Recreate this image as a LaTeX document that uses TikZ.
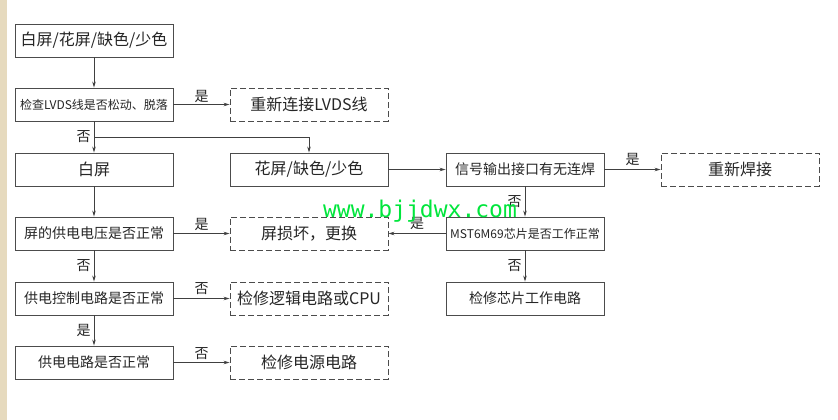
\documentclass[tikz,border=0pt]{standalone}
\usepackage{fontspec}
\setmainfont{Noto Sans CJK SC}
\newfontfamily\wmfont{DejaVu Sans Mono}
\usetikzlibrary{arrows.meta}
\definecolor{strip}{RGB}{230,218,190}
\definecolor{wmgreen}{RGB}{0,230,60}

\begin{document}
\begin{tikzpicture}[x=1pt,y=-1pt,
    box/.style={draw=black!70,line width=0.9pt,minimum width=158pt,minimum height=33pt,inner sep=0pt,font=\fontsize{14}{16}\selectfont,text=black!85},
    big/.style={font=\fontsize{16}{18}\selectfont},
    small/.style={font=\fontsize{12}{14}\selectfont},
    dbox/.style={box,big,dash pattern=on 6pt off 3pt},
    lbl/.style={font=\fontsize{14}{16}\selectfont,text=black!85,inner sep=0pt},
    arr/.style={draw=black!75,line width=0.8pt,-{Stealth[length=6pt,width=3.5pt]}}]
    % page and strip
    \useasboundingbox (0,0) rectangle (838,420);
    \fill[white] (0,0) rectangle (838,420);
    \fill[strip] (0,0) rectangle (7,420);

    % left column
    \node[box,big] (start) at (94,40.5) {白屏/花屏/缺色/少色};
    \node[box,small] (lvds) at (94,104.5) {检查LVDS线是否松动、脱落};
    \node[box,big] (white) at (94,169.5) {白屏};
    \node[box] (volt) at (94,233.5) {屏的供电电压是否正常};
    \node[box] (ctrl) at (94,298.5) {供电控制电路是否正常};
    \node[box] (power) at (94,362.5) {供电电路是否正常};

    % middle column
    \node[dbox] (relvds) at (309,104.5) {重新连接LVDS线};
    \node[box,big] (flower) at (309,169.5) {花屏/缺色/少色};
    \node[dbox] (broken) at (309,233.5) {屏损坏，更换};
    \node[dbox] (logic) at (309,298.5) {检修逻辑电路或CPU};
    \node[dbox] (powerfix) at (309,362.5) {检修电源电路};

    % right columns
    \node[box] (weld) at (525,169.5) {信号输出接口有无连焊};
    \node[box,small] (chip) at (525,233.5) {MST6M69芯片是否工作正常};
    \node[box] (chipfix) at (525,298.5) {检修芯片工作电路};
    \node[dbox] (reweld) at (740,169.5) {重新焊接};

    % arrows
    \coordinate (split) at (94,137);
    \draw[arr] (start) -- (lvds);
    \draw[arr] (lvds) -- node[lbl,above=1pt] {是} (relvds);
    \draw[arr] (lvds) -- node[lbl,left=3pt] {否} (white);
    \draw[arr] (split) -| (flower);
    \draw[arr] (white) -- (volt);
    \draw[arr] (flower) -- (weld);
    \draw[arr] (weld) -- node[lbl,above=3pt] {是} (reweld);
    \draw[arr] (weld) -- node[lbl,left=3pt] {否} (chip);
    \draw[arr] (chip) -- node[lbl,above=3pt] {是} (broken);
    \draw[arr] (chip) -- node[lbl,left=3pt] {否} (chipfix);
    \draw[arr] (volt) -- node[lbl,above=2pt] {是} (broken);
    \draw[arr] (volt) -- node[lbl,left=3pt] {否} (ctrl);
    \draw[arr] (ctrl) -- node[lbl,above=3pt] {否} (logic);
    \draw[arr] (ctrl) -- node[lbl,left=3pt] {是} (power);
    \draw[arr] (power) -- node[lbl,above=2pt] {否} (powerfix);

    % watermark
    \node[font=\wmfont\fontsize{23}{23}\selectfont,text=wmgreen,anchor=base,inner sep=0pt] (wm) at (420,217) {www.bjjdwx.com};
\end{tikzpicture}
\end{document}
